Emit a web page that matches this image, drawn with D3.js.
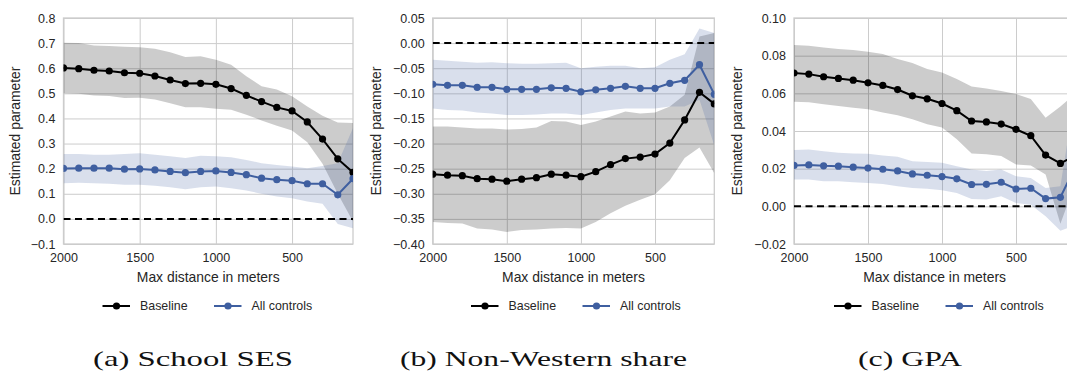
<!DOCTYPE html>
<html>
<head>
<meta charset="utf-8">
<script src="https://cdn.jsdelivr.net/npm/d3@7"></script>
<style>
  body { margin: 0; background: #fff; }
  svg { display: block; }
</style>
</head>
<body>
<script>
// distances (m), shared by all three panels
const dist = [2000, 1900, 1800, 1700, 1600, 1500, 1400, 1300, 1200, 1100, 1000, 900, 800, 700, 600, 500, 400, 300, 200, 100];
const xTicks = [2000, 1500, 1000, 500];

// (a) School SES
const sesBase   = [0.601, 0.598, 0.592, 0.589, 0.582, 0.580, 0.569, 0.553, 0.539, 0.540, 0.536, 0.519, 0.492, 0.467, 0.444, 0.430, 0.386, 0.318, 0.239, 0.185];
const sesBaseLo = [0.500, 0.498, 0.491, 0.489, 0.481, 0.482, 0.475, 0.461, 0.445, 0.445, 0.439, 0.435, 0.415, 0.392, 0.371, 0.352, 0.305, 0.220, 0.100, -0.010];
const sesBaseHi = [0.701, 0.700, 0.690, 0.688, 0.686, 0.684, 0.678, 0.664, 0.645, 0.648, 0.634, 0.614, 0.568, 0.528, 0.515, 0.488, 0.448, 0.411, 0.384, 0.382];
const sesCtrl   = [0.201, 0.202, 0.202, 0.202, 0.198, 0.199, 0.195, 0.189, 0.184, 0.189, 0.191, 0.185, 0.176, 0.162, 0.156, 0.152, 0.140, 0.140, 0.096, 0.160];
const sesCtrlLo = [0.142, 0.144, 0.142, 0.140, 0.136, 0.136, 0.132, 0.126, 0.118, 0.126, 0.129, 0.122, 0.113, 0.100, 0.089, 0.082, 0.069, 0.060, -0.020, -0.037];
const sesCtrlHi = [0.258, 0.258, 0.255, 0.255, 0.258, 0.261, 0.255, 0.249, 0.242, 0.251, 0.249, 0.245, 0.235, 0.222, 0.215, 0.209, 0.202, 0.211, 0.222, 0.362];
const sesTicks  = [-0.1, 0.0, 0.1, 0.2, 0.3, 0.4, 0.5, 0.6, 0.7, 0.8];

// (b) Non-Western share
const nwBase   = [-0.261, -0.263, -0.264, -0.270, -0.271, -0.275, -0.271, -0.268, -0.261, -0.263, -0.266, -0.256, -0.242, -0.230, -0.227, -0.221, -0.199, -0.153, -0.098, -0.121];
const nwBaseLo = [-0.356, -0.358, -0.359, -0.369, -0.371, -0.376, -0.372, -0.371, -0.369, -0.368, -0.369, -0.356, -0.339, -0.324, -0.312, -0.301, -0.273, -0.229, -0.208, -0.259];
const nwBaseHi = [-0.166, -0.166, -0.168, -0.170, -0.170, -0.172, -0.171, -0.168, -0.155, -0.156, -0.163, -0.156, -0.146, -0.136, -0.140, -0.138, -0.126, -0.103, 0.013, 0.020];
const nwCtrl   = [-0.082, -0.084, -0.084, -0.088, -0.088, -0.092, -0.092, -0.092, -0.089, -0.090, -0.097, -0.093, -0.090, -0.086, -0.090, -0.090, -0.080, -0.074, -0.043, -0.102];
const nwCtrlLo = [-0.130, -0.133, -0.134, -0.138, -0.140, -0.143, -0.143, -0.142, -0.140, -0.140, -0.143, -0.138, -0.133, -0.130, -0.130, -0.130, -0.126, -0.126, -0.113, -0.204];
const nwCtrlHi = [-0.033, -0.035, -0.037, -0.039, -0.038, -0.040, -0.041, -0.041, -0.040, -0.039, -0.050, -0.047, -0.045, -0.045, -0.050, -0.048, -0.033, -0.022, 0.029, 0.020];
const nwTicks  = [-0.40, -0.35, -0.30, -0.25, -0.20, -0.15, -0.10, -0.05, 0.00, 0.05];

// (c) GPA
const gpaBase   = [0.0708, 0.0702, 0.0688, 0.0679, 0.0670, 0.0656, 0.0642, 0.0620, 0.0587, 0.0571, 0.0546, 0.0508, 0.0453, 0.0448, 0.0437, 0.0409, 0.0375, 0.0272, 0.0228, 0.0270];
const gpaBaseLo = [0.0555, 0.0552, 0.0542, 0.0533, 0.0524, 0.0516, 0.0498, 0.0484, 0.0462, 0.0436, 0.0418, 0.0356, 0.0281, 0.0276, 0.0267, 0.0222, 0.0217, 0.0169, -0.0092, 0.0120];
const gpaBaseHi = [0.0857, 0.0853, 0.0844, 0.0836, 0.0830, 0.0821, 0.0809, 0.0782, 0.0761, 0.0729, 0.0711, 0.0676, 0.0636, 0.0626, 0.0613, 0.0596, 0.0570, 0.0471, 0.0530, 0.0600];
const gpaCtrl   = [0.0217, 0.0220, 0.0215, 0.0213, 0.0208, 0.0203, 0.0197, 0.0188, 0.0172, 0.0165, 0.0158, 0.0146, 0.0116, 0.0117, 0.0128, 0.0092, 0.0096, 0.0041, 0.0048, 0.0210];
const gpaCtrlLo = [0.0142, 0.0142, 0.0133, 0.0133, 0.0128, 0.0124, 0.0119, 0.0107, 0.0098, 0.0094, 0.0085, 0.0071, 0.0039, 0.0036, 0.0053, 0.0018, 0.0009, -0.0053, -0.0130, -0.0100];
const gpaCtrlHi = [0.0299, 0.0302, 0.0293, 0.0284, 0.0281, 0.0279, 0.0270, 0.0263, 0.0240, 0.0235, 0.0231, 0.0213, 0.0196, 0.0187, 0.0196, 0.0160, 0.0151, 0.0098, 0.0107, 0.0600];
const gpaTicks  = [-0.02, 0.00, 0.02, 0.04, 0.06, 0.08, 0.10];

const seriesNames = ['Baseline', 'All controls'];
const captions = ['(a) School SES', '(b) Non-Western share', '(c) GPA'];

const black = '#000000';
const blue = '#3f5fa0';
const grid = '#cccccc';
const sans = '"Liberation Sans", Arial, sans-serif';

const svg = d3.select('body')
    .append('svg')
    .attr('width', 1067)
    .attr('height', 374);

// panel layouts (pixel frame of each axes box)
const panels = [
    { left: 63.5, right: 353, ylab: 20, legX: 102.5, capX: 193, capW: 200, ticks: sesTicks, dec: 1,
      base: sesBase, baseLo: sesBaseLo, baseHi: sesBaseHi, ctrl: sesCtrl, ctrlLo: sesCtrlLo, ctrlHi: sesCtrlHi },
    { left: 432.7, right: 714.3, ylab: 381, legX: 471, capX: 543.5, capW: 287, ticks: nwTicks, dec: 2,
      base: nwBase, baseLo: nwBaseLo, baseHi: nwBaseHi, ctrl: nwCtrl, ctrlLo: nwCtrlLo, ctrlHi: nwCtrlHi },
    { left: 794, right: 1075.2, ylab: 742, legX: 834, capX: 910, capW: 104, ticks: gpaTicks, dec: 2,
      base: gpaBase, baseLo: gpaBaseLo, baseHi: gpaBaseHi, ctrl: gpaCtrl, ctrlLo: gpaCtrlLo, ctrlHi: gpaCtrlHi }
];

const plotTop = 18, plotBottom = 244;

panels.forEach((p, i) => {
    const x = d3.scaleLinear().domain([2000, 100]).range([p.left, p.right]);
    const y = d3.scaleLinear().domain(d3.extent(p.ticks)).range([plotBottom, plotTop]);
    const g = svg.append('g');

    const clipId = 'clip' + i;
    svg.append('clipPath').attr('id', clipId)
        .append('rect')
        .attr('x', p.left).attr('y', plotTop)
        .attr('width', p.right - p.left).attr('height', plotBottom - plotTop);

    // grid lines
    const yAxis = d3.axisLeft(y).tickValues(p.ticks)
        .tickSize(-(p.right - p.left)).tickPadding(8)
        .tickFormat(d => d3.format('.' + p.dec + 'f')(d).replace('-', '\u2212'));
    const xAxis = d3.axisBottom(x).tickValues(xTicks)
        .tickSize(-(plotBottom - plotTop)).tickPadding(9)
        .tickFormat(d3.format('d'));

    const gy = g.append('g').attr('transform', `translate(${p.left},0)`).call(yAxis);
    const gx = g.append('g').attr('transform', `translate(0,${plotBottom})`).call(xAxis);
    [gx, gy].forEach(a => {
        a.select('.domain').remove();
        a.selectAll('.tick line').attr('stroke', grid).attr('stroke-width', 1);
        a.selectAll('.tick text').attr('fill', '#262626')
            .style('font-family', sans).style('font-size', '12.5px');
    });

    // axes frame
    g.append('rect')
        .attr('x', p.left).attr('y', plotTop)
        .attr('width', p.right - p.left).attr('height', plotBottom - plotTop)
        .attr('fill', 'none').attr('stroke', grid).attr('stroke-width', 1.3);

    const plot = g.append('g').attr('clip-path', `url(#${clipId})`);

    const area = (lo, hi) => d3.area()
        .x((d, k) => x(dist[k]))
        .y0((d, k) => y(lo[k]))
        .y1((d, k) => y(hi[k]))(dist);

    plot.append('path').attr('d', area(p.baseLo, p.baseHi))
        .attr('fill', black).attr('fill-opacity', 0.2);
    plot.append('path').attr('d', area(p.ctrlLo, p.ctrlHi))
        .attr('fill', blue).attr('fill-opacity', 0.2);

    // zero reference
    plot.append('line')
        .attr('x1', p.left).attr('x2', p.right)
        .attr('y1', y(0)).attr('y2', y(0))
        .attr('stroke', black).attr('stroke-width', 2)
        .attr('stroke-dasharray', '7,4.5');

    const line = d3.line()
        .x((d, k) => x(dist[k]))
        .y(d => y(d));

    [[p.base, black], [p.ctrl, blue]].forEach(([vals, col]) => {
        plot.append('path').datum(vals)
            .attr('d', line)
            .attr('fill', 'none')
            .attr('stroke', col)
            .attr('stroke-width', 2);
        plot.selectAll(null).data(vals).enter()
            .append('circle')
            .attr('cx', (d, k) => x(dist[k]))
            .attr('cy', d => y(d))
            .attr('r', 3.6)
            .attr('fill', col);
    });

    // axis titles
    g.append('text')
        .attr('x', (p.left + p.right) / 2).attr('y', 281.5)
        .attr('text-anchor', 'middle')
        .style('font-family', sans).style('font-size', '13.9px')
        .attr('fill', '#262626')
        .text('Max distance in meters');

    g.append('text')
        .attr('transform', `translate(${p.ylab},${(plotTop + plotBottom) / 2}) rotate(-90)`)
        .attr('text-anchor', 'middle')
        .style('font-family', sans).style('font-size', '13.9px')
        .attr('fill', '#262626')
        .text('Estimated parameter');

    // legend
    const leg = g.append('g').attr('transform', `translate(${p.legX},306)`);
    [[black, 0], [blue, 111.5]].forEach(([col, off], k) => {
        leg.append('line')
            .attr('x1', off).attr('x2', off + 27.5)
            .attr('y1', 0).attr('y2', 0)
            .attr('stroke', col).attr('stroke-width', 2);
        leg.append('circle')
            .attr('cx', off + 14).attr('cy', 0).attr('r', 3.6).attr('fill', col);
        leg.append('text')
            .attr('x', off + 37.5).attr('y', 4.4)
            .style('font-family', sans).style('font-size', '12.4px')
            .attr('fill', '#262626')
            .text(seriesNames[k]);
    });

    // sub-figure caption
    g.append('text')
        .attr('x', p.capX - p.capW / 2).attr('y', 365.5)
        .attr('textLength', p.capW).attr('lengthAdjust', 'spacingAndGlyphs')
        .style('font-family', '"Liberation Serif", "DejaVu Serif", serif')
        .style('font-size', '22px')
        .attr('fill', '#111')
        .text(captions[i]);
});
</script>
</body>
</html>
